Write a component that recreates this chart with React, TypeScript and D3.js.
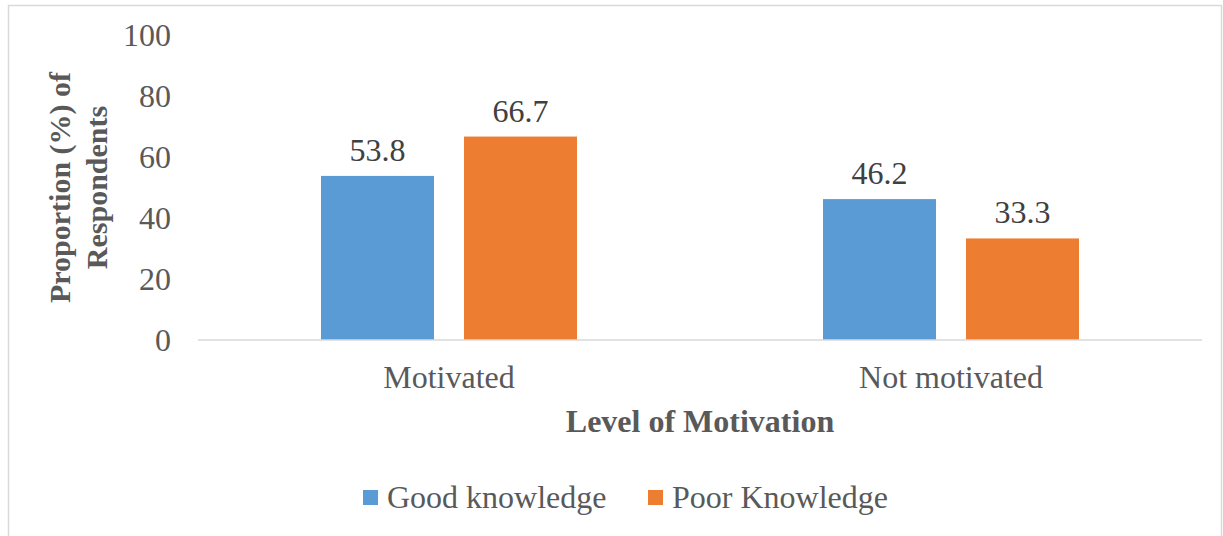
import React from "react";
import * as d3 from "d3";

const categories = ["Motivated", "Not motivated"];
const seriesNames = ["Good knowledge", "Poor Knowledge"];
const goodKnowledge = [53.8, 46.2];
const poorKnowledge = [66.7, 33.3];
const yTicks = [0, 20, 40, 60, 80, 100];
const colors = ["#5B9BD5", "#ED7D31"];

const W = 1223;
const H = 536;
const FONT = "'Liberation Serif', 'Times New Roman', serif";
const FS = 32;

export default function App() {
  const x0 = d3.scaleBand<string>().domain(categories).range([198, 1202]).paddingInner(0).paddingOuter(0);
  const groupW = 256;
  const x1 = d3.scaleBand<string>().domain(seriesNames).range([0, groupW]).paddingInner(30 / 143).paddingOuter(0);
  const y = d3.scaleLinear().domain([0, 100]).range([340, 35]);
  const series = [goodKnowledge, poorKnowledge];
  const legendX = [363, 648];

  return (
    <svg width={W} height={H} style={{ position: "absolute", left: 0, top: 0, background: "#fff" }} fontFamily={FONT}>
      <rect x={8.5} y={5.5} width={1213} height={560} fill="#fff" stroke="#d9d9d9" strokeWidth={1.5} />
      {/* y ticks */}
      {yTicks.map((t) => (
        <text key={t} x={171} y={y(t)} dy="0.35em" textAnchor="end" fontSize={FS} fill="#595959">
          {t}
        </text>
      ))}
      {/* bars */}
      {categories.map((c, ci) => {
        const gx = (x0(c) as number) + (x0.bandwidth() - groupW) / 2;
        return series.map((s, si) => {
          const bx = gx + (x1(seriesNames[si]) as number);
          const bw = x1.bandwidth();
          return (
            <g key={c + si}>
              <rect x={bx} y={y(s[ci])} width={bw} height={y(0) - y(s[ci])} fill={colors[si]} />
              <text x={bx + bw / 2} y={y(s[ci]) - 15} textAnchor="middle" fontSize={FS} fill="#404040">
                {s[ci].toFixed(1)}
              </text>
            </g>
          );
        });
      })}
      {/* baseline */}
      <line x1={198} x2={1202} y1={y(0)} y2={y(0)} stroke="#d9d9d9" strokeWidth={1.5} />
      {/* category labels */}
      {categories.map((c) => (
        <text key={c} x={(x0(c) as number) + x0.bandwidth() / 2} y={388} textAnchor="middle" fontSize={FS} fill="#595959">
          {c}
        </text>
      ))}
      {/* x title */}
      <text x={700} y={432} textAnchor="middle" fontSize={FS} fontWeight="bold" fill="#595959">
        Level of Motivation
      </text>
      {/* y title */}
      <g transform={`translate(0, ${(y(0) + y(100)) / 2}) rotate(-90)`}>
        <text x={0} y={70} textAnchor="middle" fontSize={30} fontWeight="bold" fill="#595959">
          Proportion (%) of
        </text>
        <text x={0} y={107} textAnchor="middle" fontSize={30} fontWeight="bold" fill="#595959">
          Respondents
        </text>
      </g>
      {/* legend */}
      {seriesNames.map((n, i) => {
        const lx = legendX[i];
        return (
          <g key={n}>
            <rect x={lx} y={490} width={15} height={15} fill={colors[i]} />
            <text x={lx + 24} y={508} fontSize={FS} fill="#595959">
              {n}
            </text>
          </g>
        );
      })}
    </svg>
  );
}
